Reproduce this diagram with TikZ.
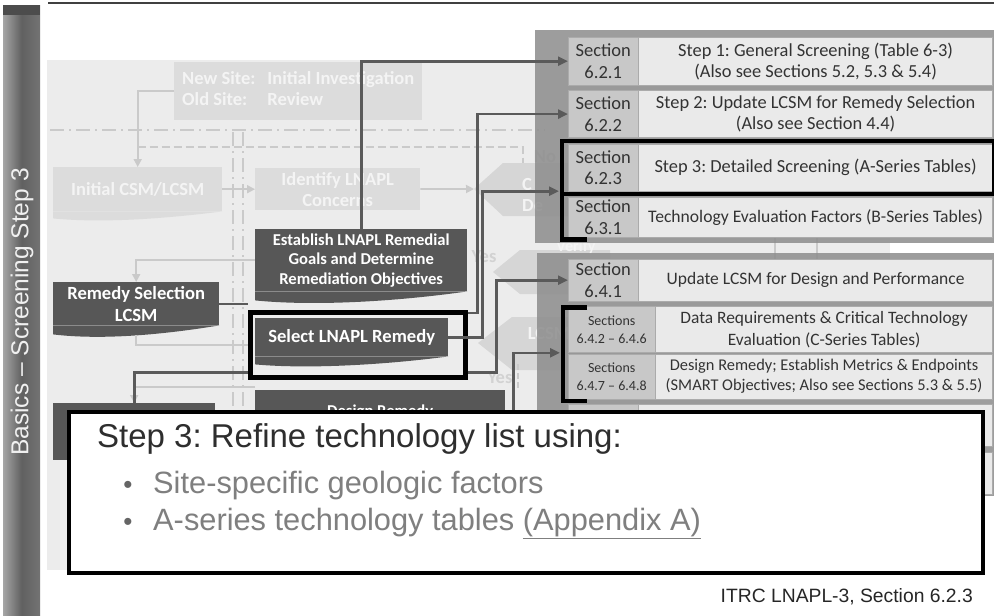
\documentclass[tikz,border=0pt]{standalone}
\usepackage{fontspec}
\setmainfont{Carlito}
\newfontfamily\arialfont{Liberation Sans}
\usepackage{tikz}
\usetikzlibrary{positioning,arrows.meta,calc}
\frenchspacing
\definecolor{ink}{HTML}{333333}
\definecolor{backdrop}{HTML}{ECECEC}
\definecolor{fadefill}{HTML}{DCDCDC}
\definecolor{fadetext}{HTML}{F4F4F4}
\definecolor{fadegray}{HTML}{CACACA}
\definecolor{fadelabeltext}{HTML}{D2D2D2}
\definecolor{hexfill}{HTML}{D6D6D6}
\definecolor{darkbox}{HTML}{575757}
\definecolor{wiregray}{HTML}{5A5A5A}
\definecolor{tablebg}{HTML}{8C8C8C}
\definecolor{secfill}{HTML}{C8C8C8}
\definecolor{descfill}{HTML}{EAEAEA}
\definecolor{celledge}{HTML}{ABABAB}
\definecolor{bulletgray}{HTML}{7F7F7F}

\begin{document}
\begin{tikzpicture}[x=1pt,y=-1pt,
  fadebox/.style={fill=fadefill,text=fadetext,inner sep=0pt,align=center,font=\fontsize{18.5}{21}\selectfont\bfseries},
  fadelabel/.style={text=fadelabeltext,inner sep=0pt,align=left,font=\fontsize{18.5}{21}\selectfont\bfseries},
  fadewire/.style={draw=fadegray,line width=1.8pt},
  fadearr/.style={fadewire,-{Triangle[length=8pt,width=8pt]}},
  darkstep/.style={fill=darkbox,text=white,inner sep=0pt,align=center,font=\fontsize{16.6}{19.5}\selectfont\bfseries},
  wire/.style={draw=wiregray,line width=2.6pt},
  wirearr/.style={wire,-{Triangle[length=10pt,width=9pt]}},
  seccell/.style={fill=secfill,draw=celledge,minimum width=70pt,inner sep=0pt,align=center,text=ink,font=\fontsize{18.5}{21.5}\selectfont},
  desccell/.style={fill=descfill,draw=celledge,minimum width=354pt,inner sep=0pt,align=center,text=ink,font=\fontsize{18.4}{21}\selectfont},
  blackframe/.style={draw=black,line width=4.5pt},
  callfont/.style={font=\arialfont\fontsize{#1}{#1}\selectfont}
]
\useasboundingbox (0,0) rectangle (994,616);

% side bar and top rule
\shade[left color=black!35,right color=black!55,middle color=black!62] (3,5) rectangle (40,616);
\fill[black!70] (3,5) rectangle (40,15);
\node[rotate=90,text=white!94!black,callfont=24.5] (bartitle) at (22,312) {Basics – Screening Step 3};
\draw[line width=2.5pt,black!75] (48,3) -- (994,3);

\fill[backdrop] (47,60) rectangle (890,570);

% faded flowchart behind
\draw[fadewire,dash pattern=on 14pt off 5pt on 2pt off 5pt] (50,130) -- (545,130);
\draw[fadewire,dash pattern=on 14pt off 5pt on 2pt off 5pt] (233,132) -- (233,566);
\draw[fadewire,dash pattern=on 14pt off 5pt on 2pt off 5pt] (243,132) -- (243,566);
\node[fadebox,minimum width=248pt,minimum height=58pt,anchor=north west] (newsite) at (174,62)
  {\begin{tabular}{@{}l@{\hspace{12pt}}l@{}}New Site: & Initial Investigation\\Old Site: & Review\end{tabular}};
\node[fadebox,minimum width=169pt,minimum height=44pt,anchor=north west] (csm) at (53,167) {Initial CSM/LCSM};
\fill[fadefill] (csm.south west) -- ++(0,7) .. controls +(50,5) and +(-55,7) .. (csm.south east) -- cycle;
\node[fadebox,minimum width=165pt,minimum height=42pt,anchor=north west] (identify) at (255,168) {Identify LNAPL\\Concerns};
\draw[fadearr] (newsite.west) -| (csm.north);
\draw[fadewire,dash pattern=on 8pt off 4pt] (csm.north |- 0,147) -- (523,147) -- (523,166);
\draw[fadearr] (csm) -- (identify);

\coordinate (hexatip) at (474,189);
\fill[hexfill] (hexatip) -- (503,163) -- (610,163) -- (610,216) -- (503,216) -- cycle;
\draw[fadearr] (identify) -- (hexatip);
\node[fadelabel,text=fadetext,anchor=west] (hexatext) at (522,195) {C\\De};
\node[fadelabel] (nolabel) at (545,157) {No};
\coordinate (hexbtip) at (493,272);
\fill[hexfill] (hexbtip) -- (520,250) -- (610,250) -- (610,294) -- (520,294) -- cycle;
\node[fadelabel,text=fadetext,font=\fontsize{16}{18}\selectfont\bfseries] (verifytext) at (576,247) {Verify};
\node[fadelabel] (yeslabel) at (484,257) {Yes};
\coordinate (hexctip) at (478,343);
\fill[hexfill] (hexctip) -- (512,317) -- (610,317) -- (610,370) -- (512,370) -- cycle;
\node[fadelabel,text=fadetext] (lcsmtext) at (549,333) {LCSM};
\node[fadelabel] (yeslabeltwo) at (500,378) {Yes};
\draw[fadewire,dash pattern=on 6pt off 3pt] (518,364) -- (518,390);
\draw[fadewire] (775,236) -- (775,262);
\draw[fadewire] (817,236) -- (817,262);

% section table
\fill[tablebg,fill opacity=0.85] (535,30) rectangle (994,243);
\fill[tablebg,fill opacity=0.85] (537,253) rectangle (994,496);
\node[seccell,minimum height=48pt,anchor=north west] (r1s) at (568,37) {Section\\6.2.1};
\node[desccell,minimum height=48pt,right=0pt of r1s] (r1d) {Step 1: General Screening (Table 6-3)\\(Also see Sections 5.2, 5.3 \& 5.4)};
\node[seccell,minimum height=47pt,below=5pt of r1s] (r2s) {Section\\6.2.2};
\node[desccell,minimum height=47pt,right=0pt of r2s] (r2d) {Step 2: Update LCSM for Remedy Selection\\(Also see Section 4.4)};
\node[seccell,minimum height=47pt,below=6pt of r2s] (r3s) {Section\\6.2.3};
\node[desccell,minimum height=47pt,right=0pt of r3s] (r3d) {Step 3: Detailed Screening (A-Series Tables)};
\node[seccell,minimum height=40pt,below=6pt of r3s] (r4s) {Section\\6.3.1};
\node[desccell,minimum height=40pt,right=0pt of r4s,font=\fontsize{17.6}{20}\selectfont] (r4d) {Technology Evaluation Factors (B-Series Tables)};

\node[seccell,minimum height=42pt,anchor=north west] (r5s) at (568,259) {Section\\6.4.1};
\node[desccell,minimum height=42pt,right=0pt of r5s,font=\fontsize{17.5}{20}\selectfont] (r5d) {Update LCSM for Design and Performance};
\node[seccell,minimum width=87pt,minimum height=46pt,below=5pt of r5s.south west,anchor=north west,font=\fontsize{14}{18}\selectfont] (r6s) {Sections\\6.4.2 – 6.4.6};
\node[desccell,minimum width=337pt,minimum height=46pt,right=0pt of r6s,font=\fontsize{17.4}{21.5}\selectfont] (r6d) {Data Requirements \& Critical Technology\\Evaluation (C-Series Tables)};
\node[seccell,minimum width=87pt,minimum height=45pt,below=1pt of r6s,font=\fontsize{14}{18}\selectfont] (r7s) {Sections\\6.4.7 – 6.4.8};
\node[desccell,minimum width=337pt,minimum height=45pt,right=0pt of r7s,font=\fontsize{16.4}{20}\selectfont] (r7d) {Design Remedy; Establish Metrics \& Endpoints\\(SMART Objectives; Also see Sections 5.3 \& 5.5)};
\node[seccell,minimum height=42pt,below=5pt of r7s.south west,anchor=north west] (r8s) {};
\node[desccell,minimum height=42pt,right=0pt of r8s] (r8d) {};
\node[seccell,minimum height=42pt,below=5pt of r8s] (r9s) {};
\node[desccell,minimum height=42pt,right=0pt of r9s] (r9d) {};

% dark steps
\node[darkstep,minimum width=212pt,minimum height=62pt,anchor=north west] (estab) at (255,229) {Establish LNAPL Remedial\\Goals and Determine\\Remediation Objectives};
\fill[darkbox] (estab.south west) -- ++(0,9) .. controls +(60,6) and +(-70,10) .. (estab.south east) -- cycle;
\node[darkstep,minimum width=166pt,minimum height=43pt,anchor=north west,font=\fontsize{18.6}{22}\selectfont\bfseries] (remsel) at (53,282) {Remedy Selection\\LCSM};
\fill[darkbox] (remsel.south west) -- ++(0,9) .. controls +(50,6) and +(-55,9) .. (remsel.south east) -- cycle;
\node[darkstep,minimum width=193pt,minimum height=38pt,anchor=north west,font=\fontsize{18.6}{21}\selectfont\bfseries] (select) at (255,318) {Select LNAPL Remedy};
\fill[darkbox] (select.south west) -- ++(0,8) .. controls +(55,5) and +(-60,8) .. (select.south east) -- cycle;
\node[darkstep,minimum width=250pt,minimum height=50pt,anchor=north west,text height=26pt,text depth=24pt] (design) at (255,390) {Design Remedy};
\node[darkstep,minimum width=162pt,minimum height=57pt,anchor=north west] (lowleft) at (53,403) {};
\node[blackframe,minimum width=215pt,minimum height=65pt,anchor=north west] (selframe) at (248,310) {};

% connectors
\draw[fadearr] (estab.west) -| (remsel.north);
\draw[fadewire] ($(remsel.south)+(0,10)$) |- (selframe.west |- 0,345);
\draw[fadearr] ($(design.north west)+(0,-3)$) -| (lowleft.north);
\draw[wire,line width=2pt] (remsel.east) -- (remsel.east -| selframe.west);
\draw[wirearr] (estab.north) |- (r1s.west);
\draw[wirearr] ($(selframe.north east)+(0,3)$) -- ++(10,0) |- (r2s.west);
\draw[wirearr] (select.east) -- ++(34,0) |- ($(r3s.south west)+(-9,0)$);
\draw[wire] (lowleft.north) |- ($(selframe.south west)+(0,-7)$);
\draw[wirearr] ($(selframe.south east)+(0,-7)$) -- ++(29,0) |- (r5s.west);
\draw[wirearr] (design.east) -- ++(8,0) |- ($(r6s.south west)+(-8,0)$);

% highlight frames
\draw[blackframe] ($(r3s.north west)+(-6,-3)$) rectangle ($(r3d.south east)+(1,3)$);
\draw[blackframe] ($(r3s.south west)+(-6,3)$) |- ($(r4s.south west)+(19,2)$);
\draw[blackframe] ($(r6s.north west)+(19,1)$) -| ($(r7s.south west)+(-5,2)$) -- ++(24,0);

% callout
\node[draw=black,line width=3.5pt,fill=white,minimum width=914pt,minimum height=161pt,anchor=north west] (callout) at (67,410) {};
\node[anchor=base west,inner sep=0pt,text=ink!90!black,callfont=33] (calltitle) at (97,447) {Step 3: Refine technology list using:};
\node[anchor=base,inner sep=0pt,text=bulletgray!80!black,callfont=26] (bulone) at (128,493) {•};
\node[anchor=base west,inner sep=0pt,text=bulletgray,callfont=30.8] (callone) at (153,493) {Site-specific geologic factors};
\node[anchor=base,inner sep=0pt,text=bulletgray!80!black,callfont=26] (bultwo) at (128,530) {•};
\node[anchor=base west,inner sep=0pt,text=bulletgray,callfont=30.8] (calltwo) at (153,530) {A-series technology tables \underline{(Appendix A)}};

\node[anchor=base east,inner sep=0pt,text=black!85,callfont=19.3] (source) at (973,602) {ITRC LNAPL-3, Section 6.2.3};
\end{tikzpicture}
\end{document}
